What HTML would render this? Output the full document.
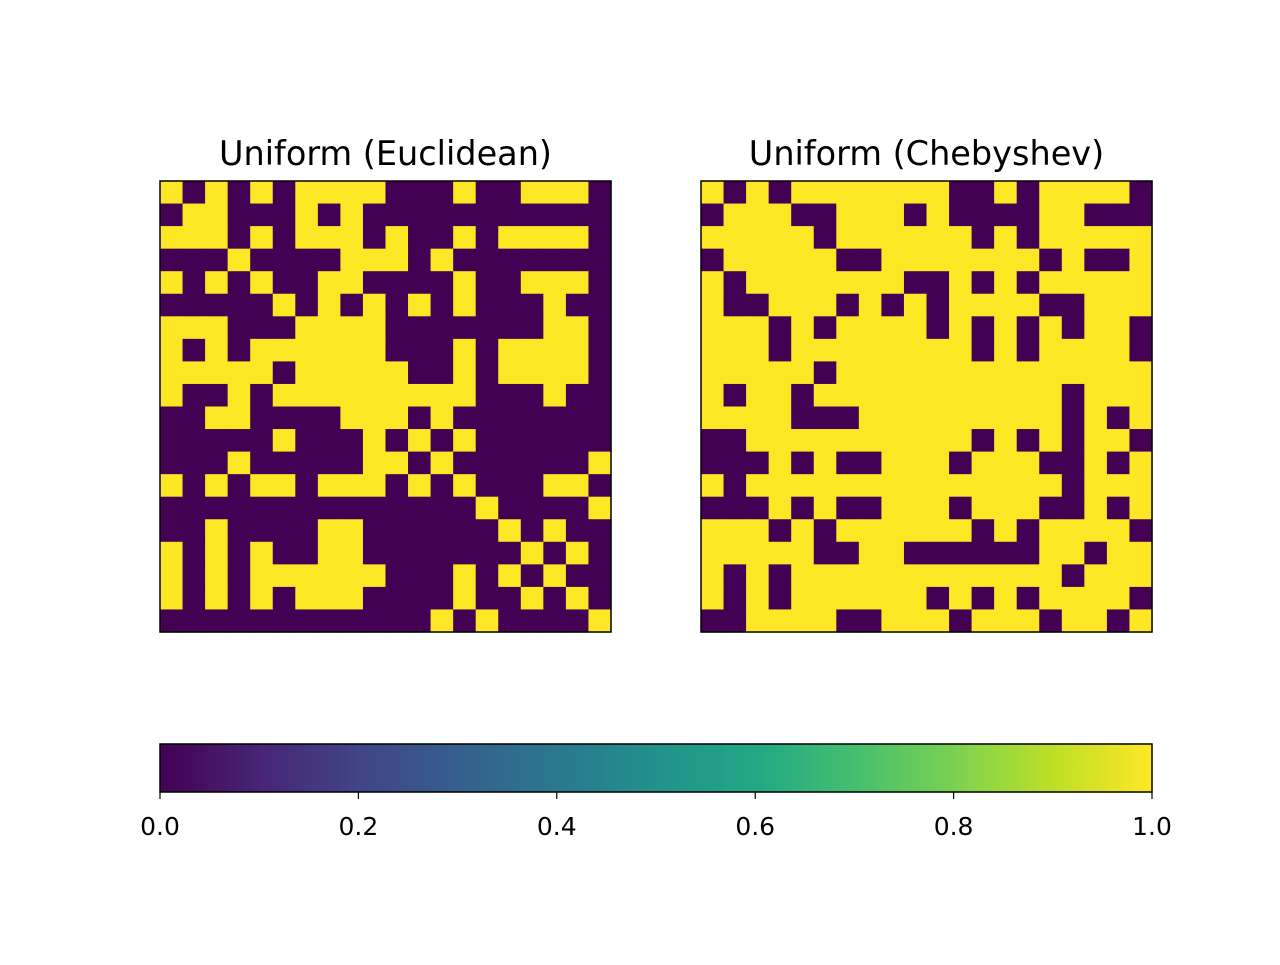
<!DOCTYPE html>
<html><head><meta charset="utf-8"><style>
html,body{margin:0;padding:0;background:#fff;}
svg text{font-family:"DejaVu Sans","Liberation Sans",sans-serif;fill:#000;}
</style></head>
<body>
<svg id="fig" width="1280" height="960" viewBox="0 0 1280 960" xmlns="http://www.w3.org/2000/svg">
<defs>
<linearGradient id="viridis" x1="0" x2="1" y1="0" y2="0">
<stop offset="0" stop-color="#440154"/><stop offset="0.1" stop-color="#482475"/>
<stop offset="0.2" stop-color="#414487"/><stop offset="0.3" stop-color="#355f8d"/>
<stop offset="0.4" stop-color="#2a788e"/><stop offset="0.5" stop-color="#21918c"/>
<stop offset="0.6" stop-color="#22a884"/><stop offset="0.7" stop-color="#44bf70"/>
<stop offset="0.8" stop-color="#7ad151"/><stop offset="0.9" stop-color="#bddf26"/>
<stop offset="1" stop-color="#fde725"/>
</linearGradient>
</defs>
<g id="g1"></g>
<g id="g2"></g>
<text x="385.5" y="165" font-size="33.5" text-anchor="middle">Uniform (Euclidean)</text>
<text x="926.5" y="165" font-size="33.5" text-anchor="middle">Uniform (Chebyshev)</text>
<rect x="160" y="744" width="992" height="48" fill="url(#viridis)" stroke="#000" stroke-width="1.5"/>
<g id="cbticks"></g>
</svg>
<script>
const euclidean = [
"10101011110001001110",
"01100010100000000000",
"11101011101001011110",
"00010000111010000000",
"10101001100001001110",
"00000101010101000100",
"11100011110000000110",
"10101111110001011110",
"11111011111001011110",
"10010111111111000100",
"00110000111010000000",
"00000100010101000000",
"00010000011010000001",
"10101101110101000110",
"00000000000000100001",
"00100001100000010100",
"10101001100000001010",
"10101111110001010100",
"10101011100001001010",
"00000000000010100001"];
const chebyshev = [
"10101111111001011110",
"01110011101000011000",
"11111011111101011111",
"01111100111111101001",
"10111111100101011111",
"10011101010111100111",
"11101011110101010110",
"11101111111101011110",
"11111011111111111111",
"10110111111111110111",
"11110001111111110101",
"00111111111101010110",
"00010100111011100101",
"10111111111111110111",
"00010100111011100101",
"11101011111101011110",
"11111001100000011011",
"10101111111111110111",
"10101111110101011110",
"00111100111011101101"];
const cbTicks = [0.0, 0.2, 0.4, 0.6, 0.8, 1.0];
const cbLabels = ["0.0","0.2","0.4","0.6","0.8","1.0"];

const NS = "http://www.w3.org/2000/svg";
const DARK = "#440154", LIGHT = "#fde725";
function drawGrid(gid, data, x0, y0, size) {
  const g = document.getElementById(gid);
  const n = data.length, cs = size / n;
  const colX = c => x0 + c * cs;
  const rowY = r => y0 + r * cs;
  for (let r = 0; r < n; r++) {
    for (let c = 0; c < data[r].length; c++) {
      const rect = document.createElementNS(NS, "rect");
      
      
      rect.setAttribute("x", colX(c));
      rect.setAttribute("y", rowY(r));
      rect.setAttribute("width", cs + 0.6);
      rect.setAttribute("height", cs + 0.6);
      rect.setAttribute("fill", data[r][c] === "1" ? LIGHT : DARK);
      g.appendChild(rect);
    }
  }
  const frame = document.createElementNS(NS, "rect");
  
  
  frame.setAttribute("x", x0); frame.setAttribute("y", y0);
  frame.setAttribute("width", size); frame.setAttribute("height", size);
  frame.setAttribute("fill", "none"); frame.setAttribute("stroke", "#000");
  frame.setAttribute("stroke-width", "1.5");
  g.appendChild(frame);
}
drawGrid("g1", euclidean, 160, 181, 451);
drawGrid("g2", chebyshev, 701, 181, 451);

const cbx = v => 160 + v * 992;
const tg = document.getElementById("cbticks");
cbTicks.forEach((v, i) => {
  const l = document.createElementNS(NS, "line");
  
  
  l.setAttribute("x1", cbx(v)); l.setAttribute("x2", cbx(v));
  l.setAttribute("y1", 792); l.setAttribute("y2", 799);
  l.setAttribute("stroke", "#000"); l.setAttribute("stroke-width", "1.2");
  tg.appendChild(l);
  const t = document.createElementNS(NS, "text");
  
  
  t.setAttribute("x", cbx(v)); t.setAttribute("y", 835);
  t.setAttribute("font-size", "25"); t.setAttribute("text-anchor", "middle");
  t.textContent = cbLabels[i];
  tg.appendChild(t);
});
</script>
</body></html>
